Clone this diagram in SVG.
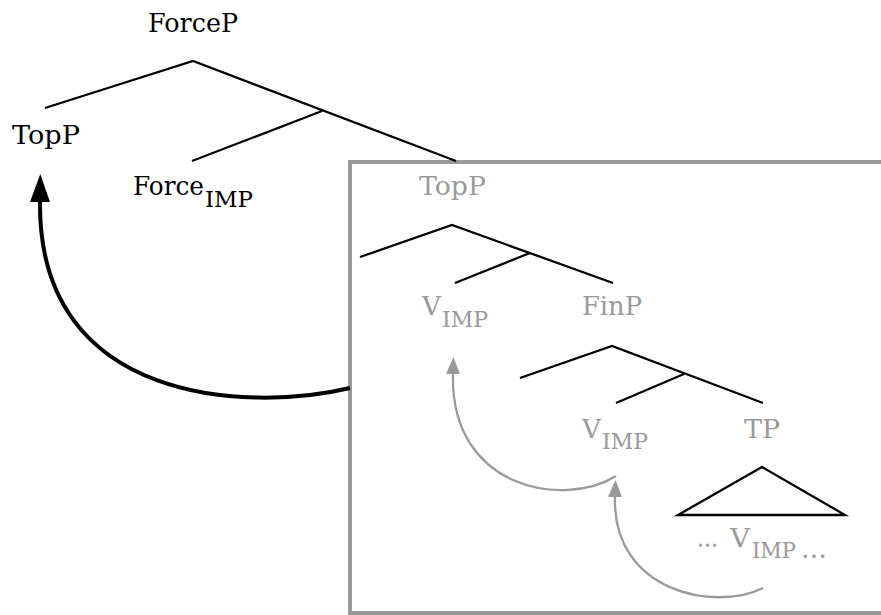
<svg xmlns="http://www.w3.org/2000/svg" width="881" height="615" viewBox="0 0 881 615">
<style>
.t{font-family:"DejaVu Serif","Liberation Serif",serif;font-size:26px;fill:#000}
.g{fill:#999}
.s{font-size:22px}
.br{stroke:#000;stroke-width:2.3;fill:none;stroke-linecap:butt}
.box{stroke:#999;stroke-width:4;fill:none}
.ga{stroke:#999;stroke-width:2.3;fill:none}
.ba{stroke:#000;stroke-width:4;fill:none}
</style>
<defs>
<marker id="hb" markerUnits="userSpaceOnUse" markerWidth="32" markerHeight="24" viewBox="0 -12 32 24" refX="0" refY="0" orient="auto">
<path d="M0,-10 L28,0 L0,10 z" fill="#000"/>
</marker>
<marker id="hg" markerUnits="userSpaceOnUse" markerWidth="20" markerHeight="16" viewBox="0 -8 20 16" refX="0" refY="0" orient="auto">
<path d="M0,-7 L17,0 L0,7 z" fill="#999"/>
</marker>
</defs>
<g id="box"><rect class="box" x="350" y="162" width="560" height="451"/></g>
<g id="connectors">
<path class="br" d="M45,108 L193,61 L456,161 M322,111 L192,161"/>
<path class="br" d="M360,257 L452,225 L613,283 M530,253 L455,283"/>
<path class="br" d="M520,378 L612,346 L763,403 M684,374 L616,403"/>
<path class="br" d="M762,467 L678,515 L845,515 Z"/>
<path class="ba" d="M350,388 C250,412 38,405 40,202" marker-end="url(#hb)"/>
<path class="ga" d="M616,476 C565,508 450,490 453,374" marker-end="url(#hg)"/>
<path class="ga" d="M763,588 C715,612 612,592 615,497" marker-end="url(#hg)"/>
</g>
<g id="n-forcep"><text class="t" x="148" y="32" textLength="90" lengthAdjust="spacingAndGlyphs">ForceP</text></g>
<g id="n-topp"><text class="t" x="12" y="144" textLength="68" lengthAdjust="spacingAndGlyphs">TopP</text></g>
<g id="n-force-imp"><text class="t" x="133" y="195" textLength="71" lengthAdjust="spacingAndGlyphs">Force</text><text class="t s" x="205" y="207" textLength="48" lengthAdjust="spacingAndGlyphs">IMP</text></g>
<g id="n-topp2"><text class="t g" x="419" y="195" textLength="67" lengthAdjust="spacingAndGlyphs">TopP</text></g>
<g id="n-vimp1"><text class="t g" x="422" y="315" textLength="19" lengthAdjust="spacingAndGlyphs">V</text><text class="t g s" x="442" y="327" textLength="46" lengthAdjust="spacingAndGlyphs">IMP</text></g>
<g id="n-finp"><text class="t g" x="582" y="315" textLength="60" lengthAdjust="spacingAndGlyphs">FinP</text></g>
<g id="n-vimp2"><text class="t g" x="582" y="438" textLength="19" lengthAdjust="spacingAndGlyphs">V</text><text class="t g s" x="602" y="449" textLength="46" lengthAdjust="spacingAndGlyphs">IMP</text></g>
<g id="n-tp"><text class="t g" x="744" y="438" textLength="36" lengthAdjust="spacingAndGlyphs">TP</text></g>
<g id="n-vimp3"><text class="t g" x="697" y="547" textLength="21" lengthAdjust="spacingAndGlyphs">…</text><text class="t g" x="730" y="547" textLength="20" lengthAdjust="spacingAndGlyphs">V</text><text class="t g s" x="752" y="558" textLength="44" lengthAdjust="spacingAndGlyphs">IMP</text><text class="t g" x="801" y="558" textLength="26" lengthAdjust="spacingAndGlyphs">…</text></g>
</svg>
